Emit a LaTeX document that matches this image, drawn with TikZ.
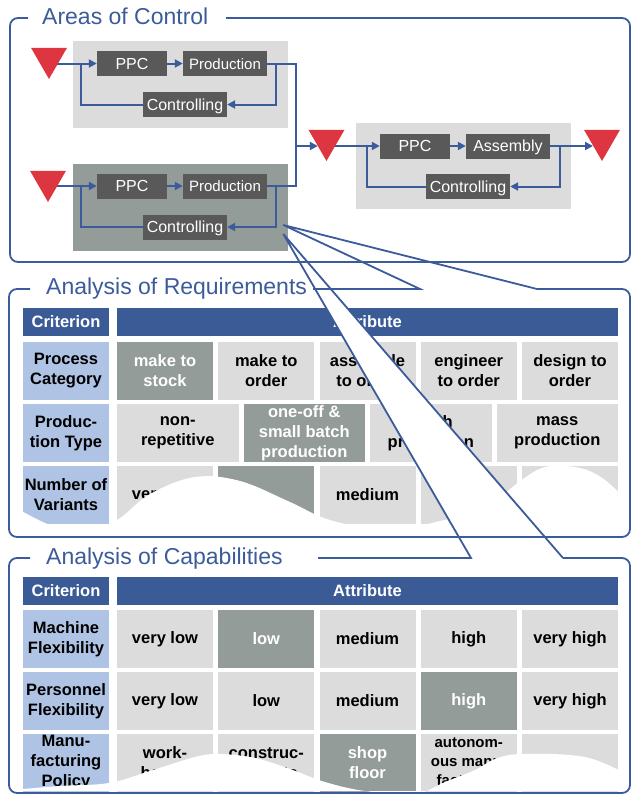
\documentclass[tikz,border=0pt]{standalone}
\usepackage{fontspec}
\setmainfont{Liberation Sans}
\usetikzlibrary{shapes.geometric,arrows.meta,calc}
\definecolor{cblue}{RGB}{59,91,154}
\definecolor{hblue}{RGB}{59,91,151}
\definecolor{lblue}{RGB}{175,195,228}
\definecolor{lgray}{RGB}{220,220,220}
\definecolor{dgray}{RGB}{148,156,154}
\definecolor{pgray}{RGB}{89,89,89}
\definecolor{tred}{RGB}{221,54,64}
\pgfdeclarelayer{back}
\pgfdeclarelayer{mid}
\pgfsetlayers{back,mid,main}
\tikzset{
  proc/.style={fill=pgray, text=white, inner sep=0pt, minimum height=25pt, text height=12pt, text depth=0.6pt, font=\fontsize{16}{19}\selectfont},
  tri/.style={regular polygon, regular polygon sides=3, shape border rotate=180, fill=tred, inner sep=0pt, outer sep=0pt, minimum size=41.6pt},
  conn/.style={draw=cblue, line width=2pt},
  arr/.style={conn, -{Triangle[length=8pt,width=8pt]}},
  frame/.style={draw=cblue, line width=1.8pt},
  ttl/.style={text=cblue, inner sep=0pt, anchor=base west, font=\fontsize{23}{27}\selectfont},
  tcell/.style={inner sep=0pt, align=center, minimum height=58pt, font=\bfseries\fontsize{16.5}{20}\selectfont},
  crit/.style={tcell, fill=lblue, minimum width=86pt},
  lc/.style={tcell, fill=lgray, minimum width=96pt},
  dc/.style={tcell, fill=dgray, text=white, minimum width=96pt},
  lw/.style={tcell, fill=lgray, minimum width=121.5pt},
  dw/.style={tcell, fill=dgray, text=white, minimum width=121.5pt},
  hdr/.style={tcell, fill=hblue, text=white, minimum height=28pt},
}
\begin{document}
\begin{tikzpicture}[x=1pt,y=-1pt]
\useasboundingbox (0,0) rectangle (632,796);
% ---------- grey areas ----------
\begin{pgfonlayer}{back}
\fill[lgray] (73,41) rectangle (288,128);
\fill[dgray] (73,164) rectangle (288,251);
\fill[lgray] (356,123) rectangle (571,209);
\end{pgfonlayer}
% ---------- process boxes ----------
\node[proc, minimum width=70pt] (ppc1) at (132,63.5) {PPC};
\node[proc, minimum width=84pt, font=\fontsize{15}{18}\selectfont] (prod1) at (225,63.5) {Production};
\node[proc, minimum width=84pt] (ctrl1) at (185,104.5) {Controlling};
\node[proc, minimum width=70pt] (ppc2) at (132,186) {PPC};
\node[proc, minimum width=84pt, font=\fontsize{15}{18}\selectfont] (prod2) at (225,186) {Production};
\node[proc, minimum width=84pt] (ctrl2) at (185,227) {Controlling};
\node[proc, minimum width=70pt] (ppc3) at (415,146) {PPC};
\node[proc, minimum width=84pt] (asm) at (508,146) {Assembly};
\node[proc, minimum width=84pt] (ctrl3) at (468,186.5) {Controlling};
% ---------- triangles ----------
\node[tri] (t1) at (49,58.2) {};
\node[tri] (t2) at (48,181.2) {};
\node[tri] (t3) at (326.5,140.2) {};
\node[tri] (t4) at (602,140.2) {};
% ---------- connectors ----------
\begin{pgfonlayer}{mid}
\coordinate (j1) at (81,63.5);
\coordinate (j2) at (81,186);
\coordinate (m) at (296,146);
\coordinate (t3in) at (317.8,146);
\coordinate (j3) at (367,146);
\coordinate (t4in) at (593,146);
\draw[arr] (t1.center |- ppc1.west) -- (ppc1.west);
\draw[arr] (ppc1.east) -- (prod1.west);
\draw[arr] (prod1.east) -- ++(9,0) |- (ctrl1.east);
\draw[conn] (ctrl1.west) -| (j1);
\draw[arr] (t2.center |- ppc2.west) -- (ppc2.west);
\draw[arr] (ppc2.east) -- (prod2.west);
\draw[arr] (prod2.east) -- ++(9,0) |- (ctrl2.east);
\draw[conn] (ctrl2.west) -| (j2);
\draw[conn] (prod1.east) -| (m) |- (prod2.east);
\draw[arr] (m) -- (t3in);
\draw[arr] (t3.center |- ppc3.west) -- (ppc3.west);
\draw[arr] (ppc3.east) -- (asm.west);
\draw[arr] (asm.east) -- ++(10,0) |- (ctrl3.east);
\draw[conn] (ctrl3.west) -| (j3);
\draw[arr] (asm.east) -- (t4in);
\end{pgfonlayer}
% ---------- requirements table ----------
\node[hdr, minimum width=86pt] (rq-crit) at (66,322) {Criterion};
\node[hdr, minimum width=501pt] (rq-attr) at (367.5,322) {Attribute};
\node[crit] (rq-l1) at (66,371) {Process\\Category};
\node[dc] (rq-11) at (165,371) {make to\\stock};
\node[lc] (rq-12) at (266.25,371) {make to\\order};
\node[lc] (rq-13) at (367.5,371) {assemble\\to order};
\node[lc] (rq-14) at (468.75,371) {engineer\\to order};
\node[lc] (rq-15) at (570,371) {design to\\order};
\node[crit] (rq-l2) at (66,433) {Produc-\\tion Type};
\node[lw] (rq-21) at (177.75,433) {non-\\repetitive};
\node[dw] (rq-22) at (304.25,433) {one-off \&\\small batch\\production};
\node[lw] (rq-23) at (430.75,433) {batch\\production};
\node[lw] (rq-24) at (557.25,433) {mass\\production};
\node[crit] (rq-l3) at (66,495) {Number of\\Variants};
\node[lc] (rq-31) at (165,495) {very low};
\node[dc] (rq-32) at (266.25,495) {};
\node[lc] (rq-33) at (367.5,495) {medium};
\node[lc] (rq-34) at (468.75,495) {high};
\node[lc] (rq-35) at (570,495) {very high};
% ---------- capabilities table ----------
\node[hdr, minimum width=86pt] (cp-crit) at (66,591) {Criterion};
\node[hdr, minimum width=501pt] (cp-attr) at (367.5,591) {Attribute};
\node[crit] (cp-l1) at (66,639) {Machine\\Flexibility};
\node[lc] (cp-11) at (165,639) {very low};
\node[dc] (cp-12) at (266.25,639) {low};
\node[lc] (cp-13) at (367.5,639) {medium};
\node[lc] (cp-14) at (468.75,639) {high};
\node[lc] (cp-15) at (570,639) {very high};
\node[crit] (cp-l2) at (66,701) {Personnel\\Flexibility};
\node[lc] (cp-21) at (165,701) {very low};
\node[lc] (cp-22) at (266.25,701) {low};
\node[lc] (cp-23) at (367.5,701) {medium};
\node[dc] (cp-24) at (468.75,701) {high};
\node[lc] (cp-25) at (570,701) {very high};
\node[crit] (cp-l3) at (66,763) {Manu-\\facturing\\Policy};
\node[lc] (cp-31) at (165,763) {work-\\bench};
\node[lc] (cp-32) at (266.25,763) {construc-\\tion site};
\node[dc] (cp-33) at (367.5,763) {shop\\floor};
\node[lc, font=\bfseries\fontsize{15}{19}\selectfont] (cp-34) at (468.75,763) {autonom-\\ous manu-\\facturing};
\node[lc] (cp-35) at (570,763) {};
% ---------- torn edges ----------
\fill[white] plot[smooth, tension=0.6] coordinates {(11,505) (50,525) (85,531) (117,520) (150,494) (195,477) (240,481) (290,502) (330,520) (390,531) (440,521) (485,510) (515,485) (545,467) (580,468) (605,480) (628,502)} -- (628,535) -- (11,535) -- cycle;
\fill[white] plot[smooth, tension=0.6] coordinates {(11,790) (60,786) (109,783) (150,771) (195,757) (220,754) (255,758) (290,769) (325,782) (365,791) (415,794) (445,782) (475,770) (495,759) (522,754) (585,757) (628,775)} -- (628,791) -- (11,791) -- cycle;
% ---------- callout wedges ----------
\coordinate (wa) at (283.3,225);
\coordinate (wb) at (283.3,234);
\coordinate (wa1) at (420,289);
\coordinate (wa2) at (537,289);
\coordinate (wb1) at (471,558);
\coordinate (wb2) at (563,558);
\fill[white] (wb) -- (wb1) -- (wb2) -- cycle;
% ---------- frames ----------
\draw[frame, rounded corners=8pt] (226,18) -- (630,18) -- (630,262) -- (10,262) -- (10,18) -- (28,18);
\draw[frame, rounded corners=8pt] (wa2) -- (630,289) -- (630,537) -- (9,537) -- (9,289) -- (30,289);
\draw[frame] (313,289) -- (wa1) -- (wa) -- (wa2);
\draw[frame, rounded corners=8pt] (wb2) -- (630,558) -- (630,793) -- (9,793) -- (9,558) -- (30,558);
\draw[frame] (318,558) -- (wb1) -- (wb) -- (wb2);
% ---------- titles ----------
\node[ttl] (t-areas) at (42,24) {Areas of Control};
\node[ttl] (t-req) at (46,294) {Analysis of Requirements};
\node[ttl] (t-cap) at (46,564) {Analysis of Capabilities};
\end{tikzpicture}
\end{document}
